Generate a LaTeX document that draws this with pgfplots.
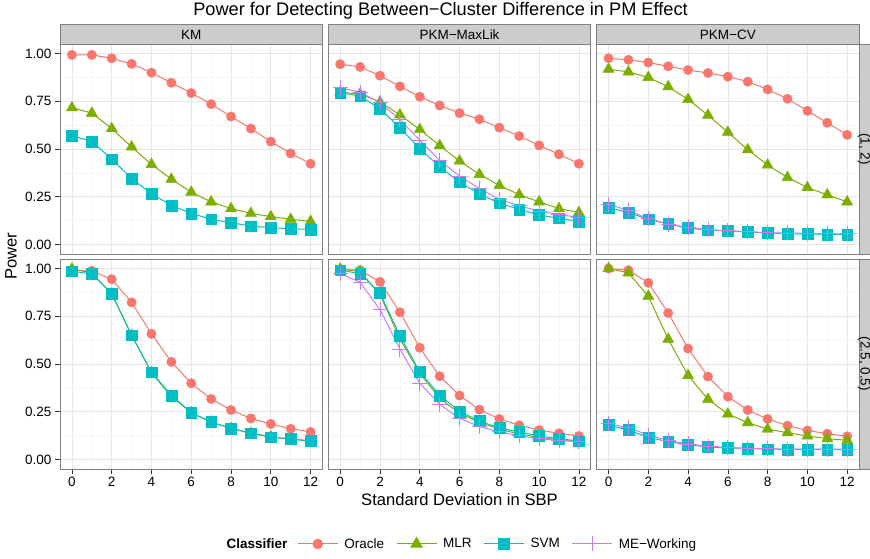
\documentclass[border=0pt]{standalone}
\usepackage{pgfplots}
\pgfplotsset{compat=1.18}
\usepackage{pgfplotstable}
\usepackage{fontspec}
\setmainfont{Liberation Sans}

\definecolor{cOr}{HTML}{F8766D}
\definecolor{cMl}{HTML}{7CAE00}
\definecolor{cSv}{HTML}{00BFC4}
\definecolor{cMe}{HTML}{C77CFF}
\newcommand{\sz}{\fontsize{13.5}{15}\selectfont}

% columns: sd, Oracle, MLR, SVM, ME-Working
\pgfplotstableread{
sd or mlr svm
0 0.993 0.716 0.570
1 0.993 0.688 0.539
2 0.975 0.607 0.447
3 0.946 0.511 0.346
4 0.900 0.419 0.265
5 0.847 0.342 0.205
6 0.793 0.274 0.163
7 0.735 0.223 0.132
8 0.670 0.188 0.114
9 0.607 0.163 0.096
10 0.539 0.146 0.088
11 0.477 0.132 0.082
12 0.423 0.121 0.079
}\kmA
\pgfplotstableread{
sd or mlr svm mew
0 0.944 0.798 0.795 0.821
1 0.930 0.788 0.777 0.798
2 0.884 0.746 0.711 0.742
3 0.828 0.679 0.611 0.654
4 0.774 0.602 0.502 0.546
5 0.728 0.518 0.407 0.440
6 0.688 0.437 0.326 0.358
7 0.656 0.367 0.265 0.293
8 0.612 0.309 0.216 0.237
9 0.568 0.261 0.184 0.202
10 0.519 0.223 0.154 0.175
11 0.472 0.188 0.137 0.156
12 0.423 0.167 0.121 0.142
}\mlA
\pgfplotstableread{
sd or mlr svm mew
0 0.975 0.918 0.193 0.211
1 0.967 0.904 0.167 0.177
2 0.953 0.875 0.132 0.135
3 0.933 0.826 0.107 0.107
4 0.914 0.760 0.086 0.088
5 0.898 0.677 0.075 0.077
6 0.879 0.588 0.070 0.072
7 0.853 0.496 0.065 0.067
8 0.812 0.416 0.060 0.061
9 0.763 0.351 0.056 0.060
10 0.700 0.298 0.056 0.058
11 0.637 0.260 0.053 0.056
12 0.574 0.223 0.053 0.056
}\cvA
\pgfplotstableread{
sd or mlr svm
0 0.991 0.998 0.986
1 0.988 0.977 0.972
2 0.944 0.867 0.869
3 0.823 0.651 0.651
4 0.658 0.455 0.457
5 0.511 0.329 0.335
6 0.399 0.245 0.245
7 0.317 0.196 0.196
8 0.259 0.163 0.163
9 0.215 0.137 0.137
10 0.186 0.119 0.117
11 0.161 0.107 0.107
12 0.144 0.095 0.098
}\kmB
\pgfplotstableread{
sd or mlr svm mew
0 0.996 0.998 0.991 0.974
1 0.991 0.984 0.974 0.928
2 0.930 0.863 0.872 0.785
3 0.771 0.632 0.648 0.578
4 0.585 0.452 0.459 0.399
5 0.436 0.320 0.336 0.289
6 0.335 0.242 0.252 0.215
7 0.261 0.194 0.201 0.172
8 0.212 0.159 0.165 0.145
9 0.179 0.133 0.144 0.124
10 0.154 0.116 0.123 0.109
11 0.137 0.102 0.109 0.100
12 0.123 0.093 0.096 0.093
}\mlB
\pgfplotstableread{
sd or mlr svm mew
0 1.000 1.000 0.180 0.189
1 0.991 0.977 0.154 0.166
2 0.925 0.855 0.116 0.128
3 0.767 0.630 0.093 0.100
4 0.581 0.440 0.077 0.081
5 0.434 0.315 0.065 0.070
6 0.329 0.238 0.060 0.063
7 0.259 0.193 0.058 0.058
8 0.212 0.159 0.054 0.056
9 0.177 0.140 0.053 0.054
10 0.152 0.123 0.053 0.054
11 0.135 0.109 0.053 0.054
12 0.121 0.100 0.051 0.054
}\cvB

\pgfplotsset{
  panel/.style={scale only axis, width=262.5pt, height=210pt, anchor=south west,
    xmin=-0.6, xmax=12.6, ymin=-0.05, ymax=1.05,
    xtick={0,2,...,12}, minor xtick={1,3,...,11},
    ytick={0,0.25,0.5,0.75,1}, minor ytick={0.125,0.375,0.625,0.875},
    grid=both, major grid style={black!10, line width=0.6pt},
    minor grid style={black!4, line width=0.6pt},
    axis line style={black!50, line width=0.7pt},
    tick align=outside, major tick length=5pt, minor tick length=0pt,
    tick style={black!80, line width=0.7pt},
    xtick pos=bottom, ytick pos=left,
    tick label style={font=\sz, text=black},
    /pgf/number format/assume math mode=true,
    yticklabel style={/pgf/number format/.cd, fixed, fixed zerofill, precision=2},
    legend image code/.code={\draw[mark repeat=2, mark phase=2, #1]
      plot coordinates {(0pt,0pt) (20pt,0pt) (40pt,0pt)};}},
  noxt/.style={xticklabels={}, xtick style={draw=none}},
  noyt/.style={yticklabels={}, ytick style={draw=none}},
  mOr/.style={only marks, mark=*, mark size=4.7pt, color=cOr},
  mMl/.style={only marks, mark=triangle*, mark size=6.4pt, color=cMl},
  mSv/.style={only marks, mark=square*, mark size=5.4pt, color=cSv},
  mMe/.style={only marks, mark=+, mark size=7.5pt, color=cMe, mark options={line width=0.8pt}},
  ln/.style={no marks, line width=1pt, color=#1},
}

\newcommand{\threeplots}[1]{%
  \addplot[mOr] table[x=sd, y=or]{#1};
  \addplot[mMl] table[x=sd, y=mlr]{#1};
  \addplot[mSv] table[x=sd, y=svm]{#1};
  \addplot[ln=cOr] table[x=sd, y=or]{#1};
  \addplot[ln=cMl] table[x=sd, y=mlr]{#1};
  \addplot[ln=cSv] table[x=sd, y=svm]{#1};
}
\newcommand{\fourplots}[1]{%
  \addplot[mOr] table[x=sd, y=or]{#1};
  \addplot[mMl] table[x=sd, y=mlr]{#1};
  \addplot[mSv] table[x=sd, y=svm]{#1};
  \addplot[mMe] table[x=sd, y=mew]{#1};
  \addplot[ln=cOr] table[x=sd, y=or]{#1};
  \addplot[ln=cMl] table[x=sd, y=mlr]{#1};
  \addplot[ln=cSv] table[x=sd, y=svm]{#1};
  \addplot[ln=cMe] table[x=sd, y=mew]{#1};
}

\begin{document}
\begin{tikzpicture}[x=1pt, y=1pt]
% top row
\begin{axis}[panel, noxt, at={(60pt,305pt)}]
  \threeplots{\kmA}
\end{axis}
\begin{axis}[panel, noxt, noyt, at={(328.3pt,305pt)}]
  \fourplots{\mlA}
\end{axis}
\begin{axis}[panel, noxt, noyt, at={(596.6pt,305pt)}]
  \fourplots{\cvA}
\end{axis}
% bottom row
\begin{axis}[panel, at={(60pt,90pt)}]
  \threeplots{\kmB}
\end{axis}
\begin{axis}[panel, noyt, at={(328.3pt,90pt)},
    legend style={at={(axis description cs:-0.119,-0.357)}, anchor=west,
      draw=none, fill=none, inner sep=0pt, font=\sz, legend columns=4,
      /tikz/every odd column/.append style={column sep=4pt},
      /tikz/every even column/.append style={column sep=10pt}}]
  \addlegendimage{cOr, line width=1pt, mark=*, mark size=4.7pt}
  \addlegendimage{cMl, line width=1pt, mark=triangle*, mark size=6.4pt}
  \addlegendimage{cSv, line width=1pt, mark=square*, mark size=5.4pt}
  \addlegendimage{cMe, line width=1pt, mark=+, mark size=7.5pt}
  \legend{Oracle, MLR, SVM, ME−Working}
  \fourplots{\mlB}
\end{axis}
\begin{axis}[panel, noyt, at={(596.6pt,90pt)}]
  \fourplots{\cvB}
\end{axis}

% strips
\foreach \xl/\lab in {60/KM, 328.3/PKM−MaxLik, 596.6/PKM−CV}{
  \draw[black!50, fill=black!20, line width=0.7pt] (\xl,515) rectangle ++(262.5,20);
  \node[font=\sz, anchor=base] at (\xl+131.25,519) {\lab};
}
\draw[black!50, fill=black!20, line width=0.7pt] (859.1,305) rectangle (880,515);
\draw[black!50, fill=black!20, line width=0.7pt] (859.1,90) rectangle (880,300);
\node[font=\sz, rotate=-90, inner sep=0pt] at (864,410) {(1, 2)};
\node[font=\sz, rotate=-90, inner sep=0pt] at (864,195) {(2.5, 0.5)};

% titles and labels
\node[font=\fontsize{18.2}{20}\selectfont, anchor=base] at (440.5,543)
  {Power for Detecting Between−Cluster Difference in PM Effect};
\node[font=\fontsize{16.6}{18}\selectfont, anchor=base] at (459.5,53)
  {Standard Deviation in SBP};
\node[font=\fontsize{16.6}{18}\selectfont, rotate=90, anchor=base] at (16.7,303) {Power};
\node[font=\sz\bfseries, anchor=base west] at (223,10) {Classifier};

\pgfresetboundingbox
\useasboundingbox (0,0) rectangle (870,559);
\end{tikzpicture}
\end{document}
